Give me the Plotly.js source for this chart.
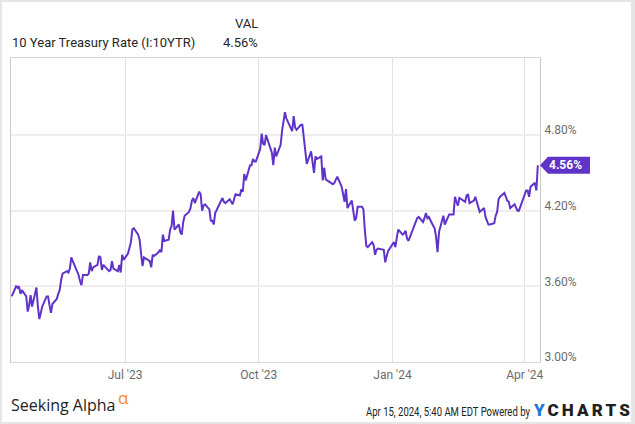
<!DOCTYPE html>
<html>
<head>
<meta charset="utf-8">
<script src="https://cdn.plot.ly/plotly-3.0.1.min.js"></script>
<style>
  html, body { margin: 0; padding: 0; background: #fff; }
  #wrap { position: relative; width: 635px; height: 424px; }
  #chart { width: 635px; height: 424px; }
  #frame { position: absolute; left: 0; top: 0; width: 635px; height: 424px; box-sizing: border-box;
           border: 2px solid #e6e6e6; border-right-width: 4px; pointer-events: none; }
</style>
</head>
<body>
<div id="wrap"><div id="chart"></div><div id="frame"></div></div>
<script>
// ---- data: 10 Year Treasury Rate (%), daily ----
const dates = [
"2023-04-14","2023-04-17","2023-04-18","2023-04-19","2023-04-20","2023-04-21","2023-04-24","2023-04-25","2023-04-26","2023-04-27","2023-04-28",
"2023-05-01","2023-05-02","2023-05-03","2023-05-04","2023-05-05","2023-05-08","2023-05-09","2023-05-10","2023-05-11","2023-05-12","2023-05-15","2023-05-16","2023-05-17","2023-05-18","2023-05-19","2023-05-22","2023-05-23","2023-05-24","2023-05-25","2023-05-26","2023-05-30","2023-05-31",
"2023-06-01","2023-06-02","2023-06-05","2023-06-06","2023-06-07","2023-06-08","2023-06-09","2023-06-12","2023-06-13","2023-06-14","2023-06-15","2023-06-16","2023-06-20","2023-06-21","2023-06-22","2023-06-23","2023-06-26","2023-06-27","2023-06-28","2023-06-29","2023-06-30",
"2023-07-03","2023-07-05","2023-07-06","2023-07-07","2023-07-10","2023-07-11","2023-07-12","2023-07-13","2023-07-14","2023-07-17","2023-07-18","2023-07-19","2023-07-20","2023-07-21","2023-07-24","2023-07-25","2023-07-26","2023-07-27","2023-07-28","2023-07-31",
"2023-08-01","2023-08-02","2023-08-03","2023-08-04","2023-08-07","2023-08-08","2023-08-09","2023-08-10","2023-08-11","2023-08-14","2023-08-15","2023-08-16","2023-08-17","2023-08-18","2023-08-21","2023-08-22","2023-08-23","2023-08-24","2023-08-25","2023-08-28","2023-08-29","2023-08-30","2023-08-31",
"2023-09-01","2023-09-05","2023-09-06","2023-09-07","2023-09-08","2023-09-11","2023-09-12","2023-09-13","2023-09-14","2023-09-15","2023-09-18","2023-09-19","2023-09-20","2023-09-21","2023-09-22","2023-09-25","2023-09-26","2023-09-27","2023-09-28","2023-09-29",
"2023-10-02","2023-10-03","2023-10-04","2023-10-05","2023-10-06","2023-10-10","2023-10-11","2023-10-12","2023-10-13","2023-10-16","2023-10-17","2023-10-18","2023-10-19","2023-10-20","2023-10-23","2023-10-24","2023-10-25","2023-10-26","2023-10-27","2023-10-30","2023-10-31",
"2023-11-01","2023-11-02","2023-11-03","2023-11-06","2023-11-07","2023-11-08","2023-11-09","2023-11-10","2023-11-13","2023-11-14","2023-11-15","2023-11-16","2023-11-17","2023-11-20","2023-11-21","2023-11-22","2023-11-24","2023-11-27","2023-11-28","2023-11-29","2023-11-30",
"2023-12-01","2023-12-04","2023-12-05","2023-12-06","2023-12-07","2023-12-08","2023-12-11","2023-12-12","2023-12-13","2023-12-14","2023-12-15","2023-12-18","2023-12-19","2023-12-20","2023-12-21","2023-12-22","2023-12-26","2023-12-27","2023-12-28","2023-12-29",
"2024-01-02","2024-01-03","2024-01-04","2024-01-05","2024-01-08","2024-01-09","2024-01-10","2024-01-11","2024-01-12","2024-01-16","2024-01-17","2024-01-18","2024-01-19","2024-01-22","2024-01-23","2024-01-24","2024-01-25","2024-01-26","2024-01-29","2024-01-30","2024-01-31",
"2024-02-01","2024-02-02","2024-02-05","2024-02-06","2024-02-07","2024-02-08","2024-02-09","2024-02-12","2024-02-13","2024-02-14","2024-02-15","2024-02-16","2024-02-20","2024-02-21","2024-02-22","2024-02-23","2024-02-26","2024-02-27","2024-02-28","2024-02-29",
"2024-03-01","2024-03-04","2024-03-05","2024-03-06","2024-03-07","2024-03-08","2024-03-11","2024-03-12","2024-03-13","2024-03-14","2024-03-15","2024-03-18","2024-03-19","2024-03-20","2024-03-21","2024-03-22","2024-03-25","2024-03-26","2024-03-27","2024-03-28",
"2024-04-01","2024-04-02","2024-04-03","2024-04-04","2024-04-05","2024-04-08","2024-04-09","2024-04-10"
];
const rates = [
3.52,3.60,3.59,3.60,3.54,3.57,3.52,3.40,3.45,3.53,3.44,
3.59,3.44,3.34,3.39,3.44,3.52,3.52,3.45,3.39,3.46,3.50,3.54,3.57,3.65,3.70,3.72,3.71,3.74,3.83,3.80,3.69,3.64,
3.61,3.69,3.69,3.70,3.79,3.72,3.75,3.77,3.84,3.83,3.73,3.77,3.72,3.73,3.80,3.74,3.72,3.77,3.71,3.85,3.81,
3.86,3.95,4.05,4.06,4.01,3.97,3.86,3.76,3.83,3.81,3.80,3.75,3.85,3.84,3.87,3.89,3.87,4.01,3.96,3.97,
4.05,4.08,4.20,4.05,4.09,4.03,4.01,4.11,4.16,4.19,4.22,4.28,4.30,4.26,4.35,4.33,4.20,4.24,4.25,4.21,4.12,4.12,4.09,
4.18,4.27,4.30,4.27,4.26,4.29,4.27,4.25,4.29,4.33,4.32,4.37,4.35,4.49,4.44,4.56,4.56,4.61,4.59,4.59,
4.69,4.81,4.73,4.72,4.80,4.66,4.56,4.70,4.63,4.72,4.83,4.91,4.98,4.93,4.86,4.83,4.95,4.86,4.84,4.88,4.88,
4.77,4.67,4.57,4.67,4.58,4.50,4.63,4.61,4.63,4.44,4.54,4.45,4.44,4.42,4.41,4.42,4.47,4.39,4.34,4.27,4.37,
4.22,4.28,4.18,4.12,4.14,4.23,4.23,4.21,4.04,3.92,3.91,3.95,3.93,3.85,3.89,3.90,3.89,3.79,3.84,3.88,
3.95,3.91,3.99,4.05,4.01,4.02,4.04,3.98,3.96,4.07,4.10,4.14,4.15,4.11,4.14,4.18,4.14,4.15,4.08,4.06,3.99,
3.87,4.03,4.16,4.09,4.12,4.15,4.17,4.17,4.31,4.27,4.24,4.30,4.27,4.32,4.33,4.26,4.28,4.31,4.27,4.25,
4.19,4.22,4.15,4.12,4.09,4.09,4.10,4.16,4.19,4.29,4.31,4.34,4.30,4.28,4.27,4.22,4.25,4.23,4.20,4.20,
4.33,4.36,4.36,4.31,4.39,4.42,4.36,4.56
];
const xTickVals = ["2023-07-01","2023-10-01","2024-01-01","2024-04-01"];
const xTickText = ["Jul '23","Oct '23","Jan '24","Apr '24"];
const yTickVals = [3.0, 3.6, 4.2, 4.8];
const yTickText = ["3.00%","3.60%","4.20%","4.80%"];
const seriesName = "10 Year Treasury Rate (I:10YTR)";
const stampText = "Apr 15, 2024, 5:40 AM EDT Powered by";

const lineColor = "#6034c9";
const last = rates[rates.length - 1];
const lastTxt = last.toFixed(2) + "%";

// pixel helpers for paper coordinates (plot area: x 11..540, y 58..362)
const L = 11, R = 95, T = 58, B = 62, W = 635, H = 424;
const pw = W - L - R, ph = H - T - B;
const px = v => (v - L) / pw;
const py = v => (H - B - v) / ph;

const trace = {
  x: dates, y: rates, type: "scatter", mode: "lines",
  line: { color: lineColor, width: 2 }, hoverinfo: "skip"
};

const layout = {
  width: W, height: H,
  margin: { l: L, r: R, t: T, b: B, pad: 0 },
  paper_bgcolor: "#ffffff", plot_bgcolor: "#ffffff",
  font: { family: "Roboto, sans-serif", color: "#6b6b6b", size: 12 },
  showlegend: false,
  xaxis: {
    type: "date",
    range: ["2023-04-13 12:00", "2024-04-11 12:00"],
    tickmode: "array", tickvals: xTickVals, ticktext: xTickText,
    showgrid: true, gridcolor: "#e2e2e2", gridwidth: 1,
    showline: true, linecolor: "#d6d6d6", linewidth: 1, mirror: true,
    ticks: "", zeroline: false, fixedrange: true,
    ticklabelstandoff: 2,
    tickfont: { size: 12, color: "#6b6b6b" }
  },
  yaxis: {
    side: "right",
    range: [3.0, 5.41],
    tickmode: "array", tickvals: yTickVals, ticktext: yTickText,
    showgrid: true, gridcolor: "#eeeeee", gridwidth: 2,
    showline: true, linecolor: "#c9c9c9", linewidth: 1, mirror: true,
    ticks: "", zeroline: false, fixedrange: true,
    ticklabelshift: -5, ticklabelstandoff: 1,
    tickfont: { size: 12, color: "#6b6b6b" }
  },
  shapes: [{
    type: "path", xref: "paper", yref: "y",
    xsizemode: "pixel", ysizemode: "pixel",
    xanchor: 1, yanchor: last,
    path: "M 0,0 L 8,8.5 L 50,8.5 L 50,-8.5 L 8,-8.5 Z",
    fillcolor: lineColor, line: { width: 0 }
  }],
  annotations: [
    { text: seriesName, xref: "paper", yref: "paper", x: px(10), y: py(42.5),
      xanchor: "left", yanchor: "middle", showarrow: false,
      font: { family: "Roboto", size: 13, color: "#262626" } },
    { text: "VAL", xref: "paper", yref: "paper", x: px(259.5), y: py(23),
      xanchor: "right", yanchor: "middle", showarrow: false,
      font: { family: "Roboto", size: 13, color: "#262626" } },
    { text: lastTxt, xref: "paper", yref: "paper", x: px(260), y: py(42.5),
      xanchor: "right", yanchor: "middle", showarrow: false,
      font: { family: "Roboto", size: 13, color: "#262626" } },
    { text: lastTxt, xref: "paper", yref: "y", x: 1, xshift: 25, y: last,
      xanchor: "center", yanchor: "middle", showarrow: false,
      font: { family: "Roboto", size: 12, color: "#ffffff", weight: "bold" } },
    { text: "Seeking Alpha", xref: "paper", yref: "paper", x: px(9), y: py(405),
      xanchor: "left", yanchor: "middle", showarrow: false,
      font: { family: "Open Sans", size: 16, color: "#1e1e1e" } },
    { text: "α", xref: "paper", yref: "paper", x: px(116), y: py(397),
      xanchor: "left", yanchor: "middle", showarrow: false,
      font: { family: "Open Sans", size: 17, color: "#f58a1f" } },
    { text: stampText, xref: "paper", yref: "paper", x: px(363.5), y: py(411.5),
      xanchor: "left", yanchor: "middle", align: "left", showarrow: false,
      font: { family: "Roboto", size: 12, color: "#222222" } },
    { text: '<span style="color:#1a78d8">Y</span>CHARTS', xref: "paper", yref: "paper", x: px(531), y: py(410),
      xanchor: "left", yanchor: "middle", align: "left", showarrow: false,
      font: { family: "Roboto", size: 17, color: "#202020", weight: 900 } }
  ]
};

Plotly.newPlot("chart", [trace], layout, { staticPlot: true, displayModeBar: false }).then(() => {
  document.querySelectorAll("#chart .annotation-text").forEach(el => {
    const t = el.textContent;
    if (t === stampText) {
      // condensed look: scale the text horizontally about its left edge
      const len = el.getComputedTextLength();
      const s = 164 / len;
      const x0 = parseFloat(el.getAttribute("x")) || 0;
      el.setAttribute("transform", "matrix(" + s + ",0,0,1," + (x0 * (1 - s)) + ",0)");
      const bg = el.parentNode && el.parentNode.querySelector("rect.bg");
      if (bg) bg.setAttribute("width", "166");
    } else if (t === "YCHARTS") {
      el.setAttribute("textLength", "96");
      el.setAttribute("lengthAdjust", "spacing");
      const bg = el.parentNode && el.parentNode.querySelector("rect.bg");
      if (bg) bg.setAttribute("width", "98");
    }
  });
});
</script>
</body>
</html>
